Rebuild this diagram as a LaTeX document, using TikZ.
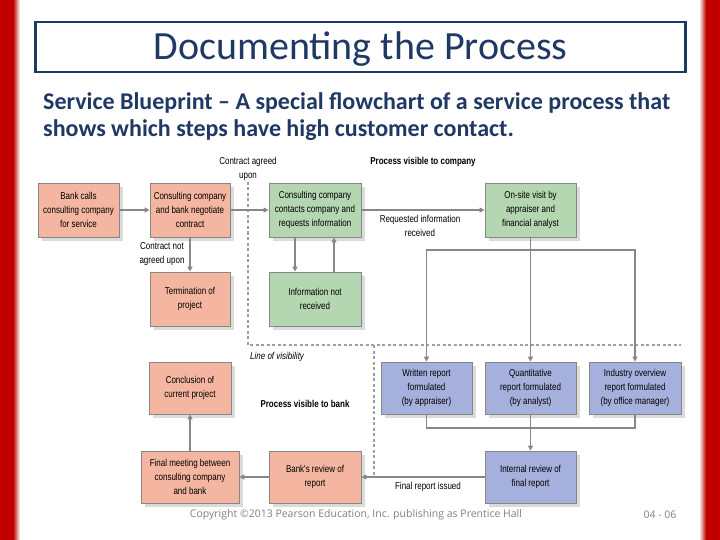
\documentclass[tikz,border=0pt]{standalone}
\usepackage{fontspec}
\newfontfamily\calib{Carlito}
\newfontfamily\narrowfont[FakeStretch=0.8]{Liberation Sans}
\newfontfamily\copyfont{Open Sans}
\usetikzlibrary{arrows.meta,positioning,shapes,shadows}
\definecolor{redbar}{RGB}{192,0,0}
\definecolor{titleblue}{RGB}{31,56,100}
\definecolor{salmon}{RGB}{244,182,160}
\definecolor{mint}{RGB}{180,214,176}
\definecolor{lilac}{RGB}{166,176,220}
\definecolor{edge}{RGB}{135,135,135}

\begin{document}
\begin{tikzpicture}[x=1pt,y=-1pt,
  stepbox/.style={draw=edge,line width=.8pt,align=center,inner sep=2pt,
    font=\narrowfont\fontsize{10}{14}\selectfont,
    drop shadow={shadow xshift=4pt,shadow yshift=-4pt,fill=black!14,opacity=1}},
  bankbox/.style={stepbox,fill=salmon},
  compbox/.style={stepbox,fill=mint},
  repbox/.style={stepbox,fill=lilac},
  flow/.style={draw=edge,line width=1.3pt},
  tip/.style={flow,-{Triangle[width=5pt,length=5pt]}},
  vis/.style={draw=edge!80,line width=1.2pt,dash pattern=on 3pt off 2.5pt},
  lbl/.style={align=center,inner sep=0pt,font=\narrowfont\fontsize{10}{14}\selectfont}]
\useasboundingbox (0,0) rectangle (720,540);
% side bars
\fill[redbar] (0,0) rectangle (13,540);
\shade[left color=redbar,right color=white] (13,0) rectangle (20,540);
\shade[left color=white,right color=redbar] (699,0) rectangle (706,540);
\fill[redbar] (706,0) rectangle (720,540);

% heading
\node[draw=titleblue,line width=2.5pt,minimum width=650pt,minimum height=50pt,text depth=2pt,
  text=titleblue,font=\calib\fontsize{40}{44}\selectfont] (title) at (360.5,47) {Documenting the Process};
\node[anchor=base west,align=left,text=titleblue,inner sep=0pt,
  font=\calib\bfseries\fontsize{24}{27}\selectfont] (sub) at (43,137)
  {Service Blueprint \textendash\ A special flowchart of a service process that\\shows which steps have high customer contact.};

% line of visibility
\coordinate (v1) at (248,182);
\coordinate (v2) at (248,345);
\coordinate (v3) at (681,345);
\coordinate (v4) at (374,345);
\coordinate (v5) at (374,476);
\draw[vis] (v1) -- (v2) -- (v3);
\draw[vis] (v4) -- (v5);

% steps
\node[bankbox,minimum width=81pt,minimum height=54pt] (call) at (78.5,210) {Bank calls\\consulting company\\for service};
\node[bankbox,minimum width=80pt,minimum height=54pt] (nego) at (190,210) {Consulting company\\and bank negotiate\\contract};
\node[compbox,minimum width=92pt,minimum height=54pt] (ask) at (315,210) {Consulting company\\contacts company and\\requests information};
\node[compbox,minimum width=91pt,minimum height=54pt] (visit) at (530.5,210) {On-site visit by\\appraiser and\\financial analyst};
\node[bankbox,minimum width=80pt,minimum height=54pt] (term) at (190,299) {Termination of\\project};
\node[compbox,minimum width=92pt,minimum height=54pt] (noinfo) at (315,299) {Information not\\received};
\node[bankbox,minimum width=82pt,minimum height=52pt] (concl) at (190,388) {Conclusion of\\current project};
\node[repbox,minimum width=91pt,minimum height=52pt] (written) at (426.5,388) {Written report\\formulated\\(by appraiser)};
\node[repbox,minimum width=91pt,minimum height=52pt] (quant) at (530.5,388) {Quantitative\\report formulated\\(by analyst)};
\node[repbox,minimum width=92pt,minimum height=52pt] (indus) at (635,388) {Industry overview\\report formulated\\(by office manager)};
\node[bankbox,minimum width=98pt,minimum height=52pt] (meet) at (190,477) {Final meeting between\\consulting company\\and bank};
\node[bankbox,minimum width=92pt,minimum height=52pt] (review) at (315,477) {Bank's review of\\report};
\node[repbox,minimum width=91pt,minimum height=52pt] (internal) at (530.5,477) {Internal review of\\final report};

% connectors
\draw[tip] (call) -- (nego);
\draw[tip] (nego) -- (ask);
\draw[tip] (nego) -- (term);
\draw[tip] ([xshift=-20pt]ask.south) -- ([xshift=-20pt]noinfo.north);
\draw[tip] ([xshift=19pt]noinfo.north) -- ([xshift=19pt]ask.south);
\draw[tip] (ask) -- (visit);
\coordinate (fork) at (530.5,250);
\draw[tip] (visit) -- (quant);
\draw[tip] (fork) -| (written.north);
\draw[tip] (fork) -| (indus.north);
\coordinate (join) at (530.5,428);
\draw[flow] (written.south) |- (join) -| (indus.south);
\draw[tip] (quant) -- (internal);
\draw[tip] (internal) -- (review);
\draw[tip] (review) -- (meet);
\draw[tip] (meet) -- (concl);

% labels
\node[lbl] (agreed) at (248,169) {Contract agreed\\upon};
\node[lbl] (notagreed) at (162,254) {Contract not\\agreed upon};
\node[lbl] (received) at (420,226) {Requested information\\received};
\node[lbl,font=\narrowfont\bfseries\fontsize{10}{12}\selectfont] (seencomp) at (423,162) {Process visible to company};
\node[lbl,anchor=west,font=\narrowfont\itshape\fontsize{10}{12}\selectfont] (lov) at (250,357) {Line of visibility};
\node[lbl,font=\narrowfont\bfseries\fontsize{10}{12}\selectfont] (seenbank) at (305,404) {Process visible to bank};
\node[lbl] (issued) at (428,487) {Final report issued};

% footer
\node[inner sep=0pt,text=black!50,font=\copyfont\fontsize{10.5}{12}\selectfont] (copy) at (356,515) {Copyright \textcopyright2013 Pearson Education, Inc. publishing as Prentice Hall};
\node[inner sep=0pt,text=black!50,font=\copyfont\fontsize{10.5}{12}\selectfont] (page) at (660,515) {04 - 06};
\end{tikzpicture}
\end{document}
